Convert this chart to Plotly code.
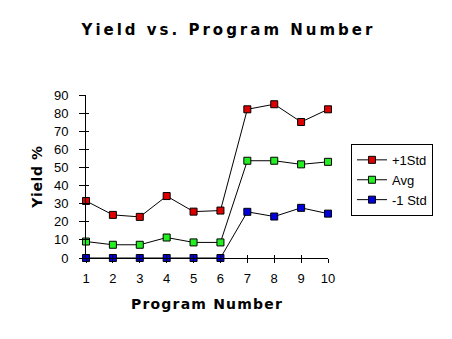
import plotly.graph_objects as go

program = [1, 2, 3, 4, 5, 6, 7, 8, 9, 10]
plus_1std = [31.5, 23.8, 22.7, 34.2, 25.6, 26.2, 82.1, 84.9, 75.1, 82.1]
avg = [9.1, 7.3, 7.3, 11.3, 8.6, 8.6, 53.7, 53.7, 51.7, 53.1]
minus_1std = [0, 0, 0, 0, 0, 0, 25.5, 22.9, 27.7, 24.5]
series_names = ["+1Std", "Avg", "-1 Std"]
series_colors = ["#dd0000", "#22ee22", "#0000dd"]
y_ticks = [0, 10, 20, 30, 40, 50, 60, 70, 80, 90]

fig = go.Figure()
for name, vals, col in zip(series_names, [plus_1std, avg, minus_1std], series_colors):
    fig.add_trace(go.Scatter(
        x=program, y=vals, name=name, mode="lines+markers",
        line=dict(color="black", width=1),
        marker=dict(symbol="square", size=7, color=col, line=dict(color="black", width=1)),
        cliponaxis=False,
    ))

tickfont = dict(family="Liberation Sans, Arial", size=13, color="black")
fig.update_layout(
    width=452, height=339,
    margin=dict(l=86, r=124, t=95, b=81),
    paper_bgcolor="white", plot_bgcolor="white",
    title=dict(text='<span style="letter-spacing:3px"><b>Yield vs. Program Number</b></span>',
               x=0.5055, xanchor="center", y=0.912, yanchor="middle",
               font=dict(family="DejaVu Sans", size=15, color="black")),
    xaxis=dict(range=[1, 10], tickvals=program, showgrid=False, zeroline=False,
               showline=True, linecolor="black", linewidth=1,
               ticks="outside", ticklen=4, tickcolor="black", tickfont=tickfont,
               ticklabelstandoff=4,
               title=dict(text='<span style="letter-spacing:1.2px"><b>Program Number</b></span>',
                          standoff=14,
                          font=dict(family="DejaVu Sans", size=14, color="black"))),
    yaxis=dict(range=[0, 90], tickvals=y_ticks, showgrid=False, zeroline=False,
               showline=True, linecolor="black", linewidth=1,
               ticks="outside", ticklen=6, tickcolor="black", tickfont=tickfont,
               ticklabelstandoff=8,
               title=dict(text='<span style="letter-spacing:0.6px"><b>Yield %</b></span>',
                          standoff=8,
                          font=dict(family="DejaVu Sans", size=14, color="black"))),
    xaxis2=dict(range=[1, 10], tickvals=program, overlaying="x", matches="x",
                showgrid=False, zeroline=False, showline=False, showticklabels=False,
                ticks="inside", ticklen=3, tickcolor="black"),
    yaxis2=dict(range=[0, 90], tickvals=y_ticks, overlaying="y", matches="y",
                showgrid=False, zeroline=False, showline=False, showticklabels=False,
                ticks="inside", ticklen=3, tickcolor="black"),
    showlegend=True,
    legend=dict(x=1.095, xanchor="left", y=0.70, yanchor="top",
                bordercolor="black", borderwidth=1, bgcolor="white",
                font=dict(family="Liberation Sans, Arial", size=13, color="black"),
                itemwidth=30, tracegroupgap=0),
)
# invisible trace to activate the overlay tick axes
fig.add_trace(go.Scatter(x=[1], y=[0], xaxis="x2", yaxis="y2", mode="markers",
                         marker=dict(opacity=0), showlegend=False, hoverinfo="skip"))
fig.write_html("out.html")
